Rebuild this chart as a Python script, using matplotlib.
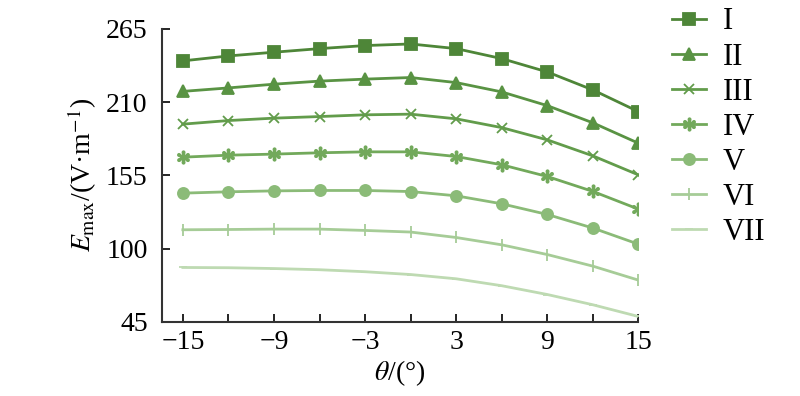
import matplotlib.pyplot as plt

plt.rcParams['font.family'] = ['Liberation Serif', 'DejaVu Serif']
plt.rcParams['mathtext.fontset'] = 'stix'

# angle of incidence (deg)
theta = [-15, -12, -9, -6, -3, 0, 3, 6, 9, 12, 15]

e_I = [241.0, 244.7, 247.5, 250.2, 252.5, 253.7, 250.2, 242.7, 232.7, 219.2, 202.9]
e_II = [218.1, 220.7, 223.5, 225.8, 227.3, 228.5, 224.7, 217.7, 207.4, 194.5, 179.2]
e_III = [193.5, 196.2, 198.0, 199.2, 200.5, 201.0, 197.5, 190.9, 181.7, 169.7, 155.4]
e_IV = [168.7, 170.2, 171.0, 172.0, 172.7, 172.7, 169.2, 163.0, 154.2, 143.0, 129.7]
e_V = [141.7, 142.7, 143.4, 143.7, 143.7, 142.9, 139.7, 133.7, 125.7, 115.5, 103.4]
e_VI = [114.2, 114.4, 114.7, 114.7, 113.7, 112.5, 108.4, 102.9, 95.6, 86.9, 76.4]
e_VII = [85.9, 85.7, 85.1, 84.2, 82.7, 80.6, 77.4, 72.2, 65.6, 57.9, 49.1]

labels = ['I', 'II', 'III', 'IV', 'V', 'VI', 'VII']
series = [e_I, e_II, e_III, e_IV, e_V, e_VI, e_VII]
colors = ['#4e8638', '#599343', '#629c4b', '#72a95b', '#8bbb78', '#a6cc97', '#bedab2']
markers = ['s', '^', 'x', '$\u2217$', 'o', '|', '_']
msizes = [8, 8, 7, 9, 8, 8, 6]

xticks = list(range(-15, 16, 3))
xticklabels = ['\u221215', '', '\u22129', '', '\u22123', '', '3', '', '9', '', '15']
yticks = [45, 100, 155, 210, 265]

fig = plt.figure(figsize=(8, 3.96), dpi=100)
ax = fig.add_axes([0.202, 0.187, 0.596, 0.740])

for y, lab, c, m, ms in zip(series, labels, colors, markers, msizes):
    ax.plot(theta, y, color=c, marker=m, markersize=ms, lw=2.0,
            markeredgewidth=1.3, label=lab)

ax.set_xlim(-16.4, 15)
ax.set_ylim(45, 265)
ax.set_xticks(xticks)
ax.set_xticklabels(xticklabels)
ax.set_yticks(yticks)
ax.tick_params(direction='in', length=6, width=1.2, labelsize=20)
ax.tick_params(axis='y', pad=10)
ax.tick_params(axis='x', pad=6)
for s in ['top', 'right']:
    ax.spines[s].set_visible(False)
for s in ['left', 'bottom']:
    ax.spines[s].set_linewidth(1.5)
    ax.spines[s].set_color('#333333')

ax.set_xlabel(r'$\theta$/(°)', fontsize=20, labelpad=2)
ax.set_ylabel(r'$E_{\rm max}$/(V·m$^{-1}$)', fontsize=20, labelpad=5)

ax.legend(loc='upper left', bbox_to_anchor=(1.045, 1.115), frameon=False,
          fontsize=22, handlelength=1.1, labelspacing=0.2, handletextpad=0.55,
          borderaxespad=0.0)

fig.savefig('out.png', dpi=100)
